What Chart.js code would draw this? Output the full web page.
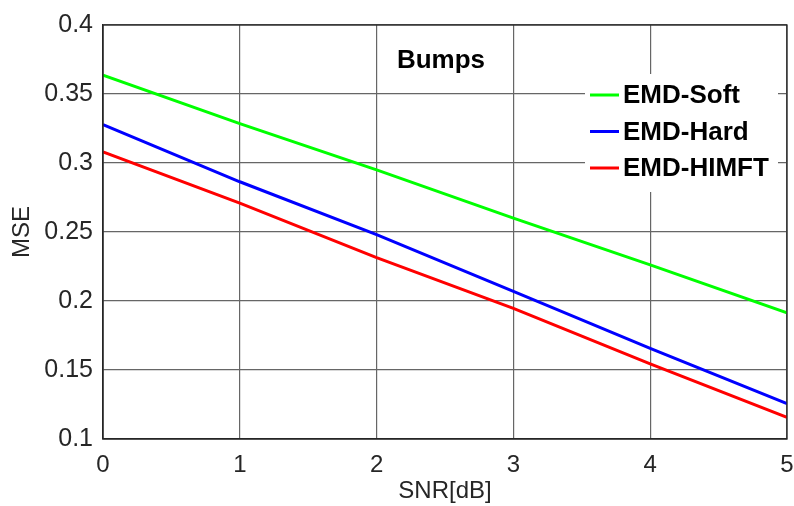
<!DOCTYPE html>
<html>
<head>
<meta charset="utf-8">
<script src="https://cdn.jsdelivr.net/npm/chart.js@4/dist/chart.umd.min.js"></script>
<style>
  html, body { margin: 0; padding: 0; background: #fff; }
  canvas { display: block; }
</style>
</head>
<body>
<canvas id="mseChart" width="794" height="506"></canvas>
<script>
// SNR in dB and MSE per method
const snr = [0, 1, 2, 3, 4, 5];
const emdSoft = [0.3636, 0.3285, 0.2950, 0.2601, 0.2262, 0.1915];
const emdHard = [0.3278, 0.2864, 0.2481, 0.2070, 0.1657, 0.1257];
const emdHimft = [0.3080, 0.2709, 0.2314, 0.1946, 0.1544, 0.1157];

const seriesNames = ["EMD-Soft", "EMD-Hard", "EMD-HIMFT"];
const seriesColors = ["#00ff00", "#0000ff", "#ff0000"];
const plotTitle = "Bumps";

const textColor = "#262626";
const fontFamily = "'Liberation Sans', Arial, sans-serif";

function toPoints(values) {
  return snr.map((x, i) => ({ x: x, y: values[i] }));
}

// title, boxed legend and the axes frame, all inside the plot area
const insidePlot = {
  id: "insidePlot",
  afterDatasetsDraw(chart) {
    const ctx = chart.ctx;
    const area = chart.chartArea;
    ctx.save();

    ctx.fillStyle = "#000";
    ctx.font = "bold 26px " + fontFamily;
    ctx.textAlign = "center";
    ctx.textBaseline = "middle";
    ctx.fillText(plotTitle, 441, 61);

    // legend box (white, no border)
    ctx.fillStyle = "#fff";
    ctx.fillRect(585, 74, 193, 118);
    ctx.font = "bold 26px " + fontFamily;
    ctx.textAlign = "left";
    seriesNames.forEach((name, i) => {
      const y = 95 + i * 36.5;
      ctx.strokeStyle = seriesColors[i];
      ctx.lineWidth = 3;
      ctx.beginPath();
      ctx.moveTo(590, y);
      ctx.lineTo(619, y);
      ctx.stroke();
      ctx.fillStyle = "#000";
      ctx.fillText(name, 623, y + 1);
    });

    ctx.strokeStyle = textColor;
    ctx.lineWidth = 1.3;
    ctx.strokeRect(area.left, area.top, area.right - area.left, area.bottom - area.top);
    ctx.restore();
  }
};

new Chart(document.getElementById("mseChart"), {
  type: "line",
  data: {
    datasets: [emdSoft, emdHard, emdHimft].map((vals, i) => ({
      label: seriesNames[i],
      data: toPoints(vals),
      borderColor: seriesColors[i],
      borderWidth: 3,
      pointRadius: 0,
      tension: 0,
      fill: false
    }))
  },
  options: {
    responsive: false,
    animation: false,
    layout: {
      padding: { top: 21, right: 7, left: 0, bottom: 0 }
    },
    plugins: {
      legend: { display: false },
      tooltip: { enabled: false }
    },
    scales: {
      x: {
        type: "linear",
        min: 0,
        max: 5,
        afterFit: (s) => {
          s.height = 67;
          s.paddingLeft = 0;
          s.paddingRight = 0;
        },
        ticks: {
          stepSize: 1,
          padding: 12,
          color: textColor,
          font: { size: 24, family: fontFamily }
        },
        grid: { color: "#666", lineWidth: 1.2, drawTicks: false },
        border: { color: textColor, width: 1.3 },
        title: {
          display: true,
          text: "SNR[dB]",
          color: textColor,
          font: { size: 24, family: fontFamily },
          padding: { top: 0, bottom: 0 }
        }
      },
      y: {
        min: 0.1,
        max: 0.4,
        afterFit: (s) => { s.width = 103; },
        ticks: {
          stepSize: 0.05,
          padding: 10,
          color: textColor,
          font: { size: 25, family: fontFamily },
          callback: (v) => String(+v.toFixed(2))
        },
        grid: { color: "#666", lineWidth: 1.2, drawTicks: false },
        border: { color: textColor, width: 1.3 },
        title: {
          display: true,
          text: "MSE",
          color: textColor,
          font: { size: 24, family: fontFamily },
          padding: { top: 8, bottom: 0 }
        }
      }
    }
  },
  plugins: [insidePlot]
});
</script>
</body>
</html>
